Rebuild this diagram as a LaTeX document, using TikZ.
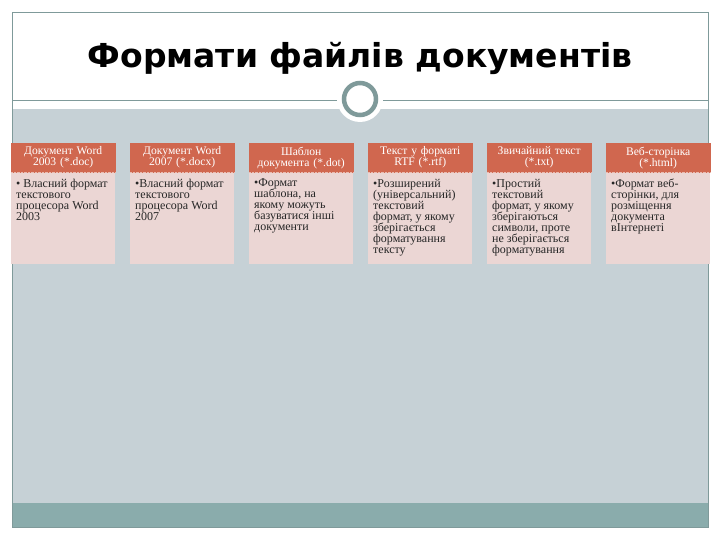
\documentclass[tikz,border=0pt]{standalone}
\usepackage{fontspec}
\setmainfont{Liberation Serif}
\newfontfamily\titlefont{DejaVu Sans}
\usetikzlibrary{positioning}
\definecolor{headred}{HTML}{D0674F}
\definecolor{bodypink}{HTML}{EBD6D4}
\definecolor{slidegrey}{HTML}{C6D1D6}
\definecolor{bandteal}{HTML}{8AACAC}
\definecolor{framegrey}{HTML}{7F9A9A}
\tikzset{
head/.style={
draw=headred,
fill=headred,
minimum width=104pt,
minimum height=29pt,
inner sep=2pt,
text width=100pt,
align=center,
text=white,
font=\fontsize{11.6}{11}\selectfont
},
body/.style={
fill=bodypink,
minimum width=104pt,
minimum height=91pt,
inner sep=0pt,
text=black!85,
font=\fontsize{12}{11}\selectfont
},
ring/.style={
circle,
draw=framegrey,
line width=4.5pt,
fill=white,
minimum size=32pt
}
}
\newcommand{\bodytext}[1]{\parbox[t][78pt][t]{94pt}{\raggedright\lineskiplimit=-20pt\textbullet#1}}

\begin{document}
\begin{tikzpicture}[x=1pt,y=-1pt]
\useasboundingbox (0,0) rectangle (720,540);
\fill[white] (0,0) rectangle (720,540);
\fill[slidegrey] (12,109) rectangle (708,503);
\fill[bandteal] (12,503) rectangle (708,527);
\draw[framegrey] (12,12) rectangle (708,527);
\draw[framegrey] (12,100) -- (708,100);

\node[font=\titlefont\bfseries\fontsize{33}{36}\selectfont](title) at (360,58){Формати файлів документів};
\node[circle,fill=white,minimum size=46pt](halo) at (360,99){};
\node[ring](knob) at (halo){};

\node[head,anchor=north west](h1) at (11,143){Документ Word\\2003 (*.doc)};
\node[head,right=14.6pt of h1](h2){Документ Word\\2007 (*.docx)};
\node[head,right=14.6pt of h2](h3){Шаблон\\документа (*.dot)};
\node[head,right=14.6pt of h3](h4){Текст у форматі\\RTF (*.rtf)};
\node[head,right=14.6pt of h4](h5){Звичайний текст\\(*.txt)};
\node[head,right=14.6pt of h5](h6){Веб-сторінка\\(*.html)};

\node[body,below=0pt of h1](b1){\bodytext{ Власний формат\\текстового\\процесора Word\\2003}};
\node[body,below=0pt of h2](b2){\bodytext{Власний формат\\текстового\\процесора Word\\2007}};
\node[body,below=0pt of h3](b3){\bodytext{Формат\\шаблона, на\\якому можуть\\базуватися інші\\документи}};
\node[body,below=0pt of h4](b4){\bodytext{Розширений\\(універсальний)\\текстовий\\формат, у якому\\зберігається\\форматування\\тексту}};
\node[body,below=0pt of h5](b5){\bodytext{Простий\\текстовий\\формат, у якому\\зберігаються\\символи, проте\\не зберігається\\форматування}};
\node[body,below=0pt of h6](b6){\bodytext{Формат веб-\\сторінки, для\\розміщення\\документа\\вІнтернеті}};

% dotted seam under each header
\foreach \i in {1,...,6}
  \draw[white!55!headred,densely dotted](h\i.south west)--(h\i.south east);
\end{tikzpicture}
\end{document}
